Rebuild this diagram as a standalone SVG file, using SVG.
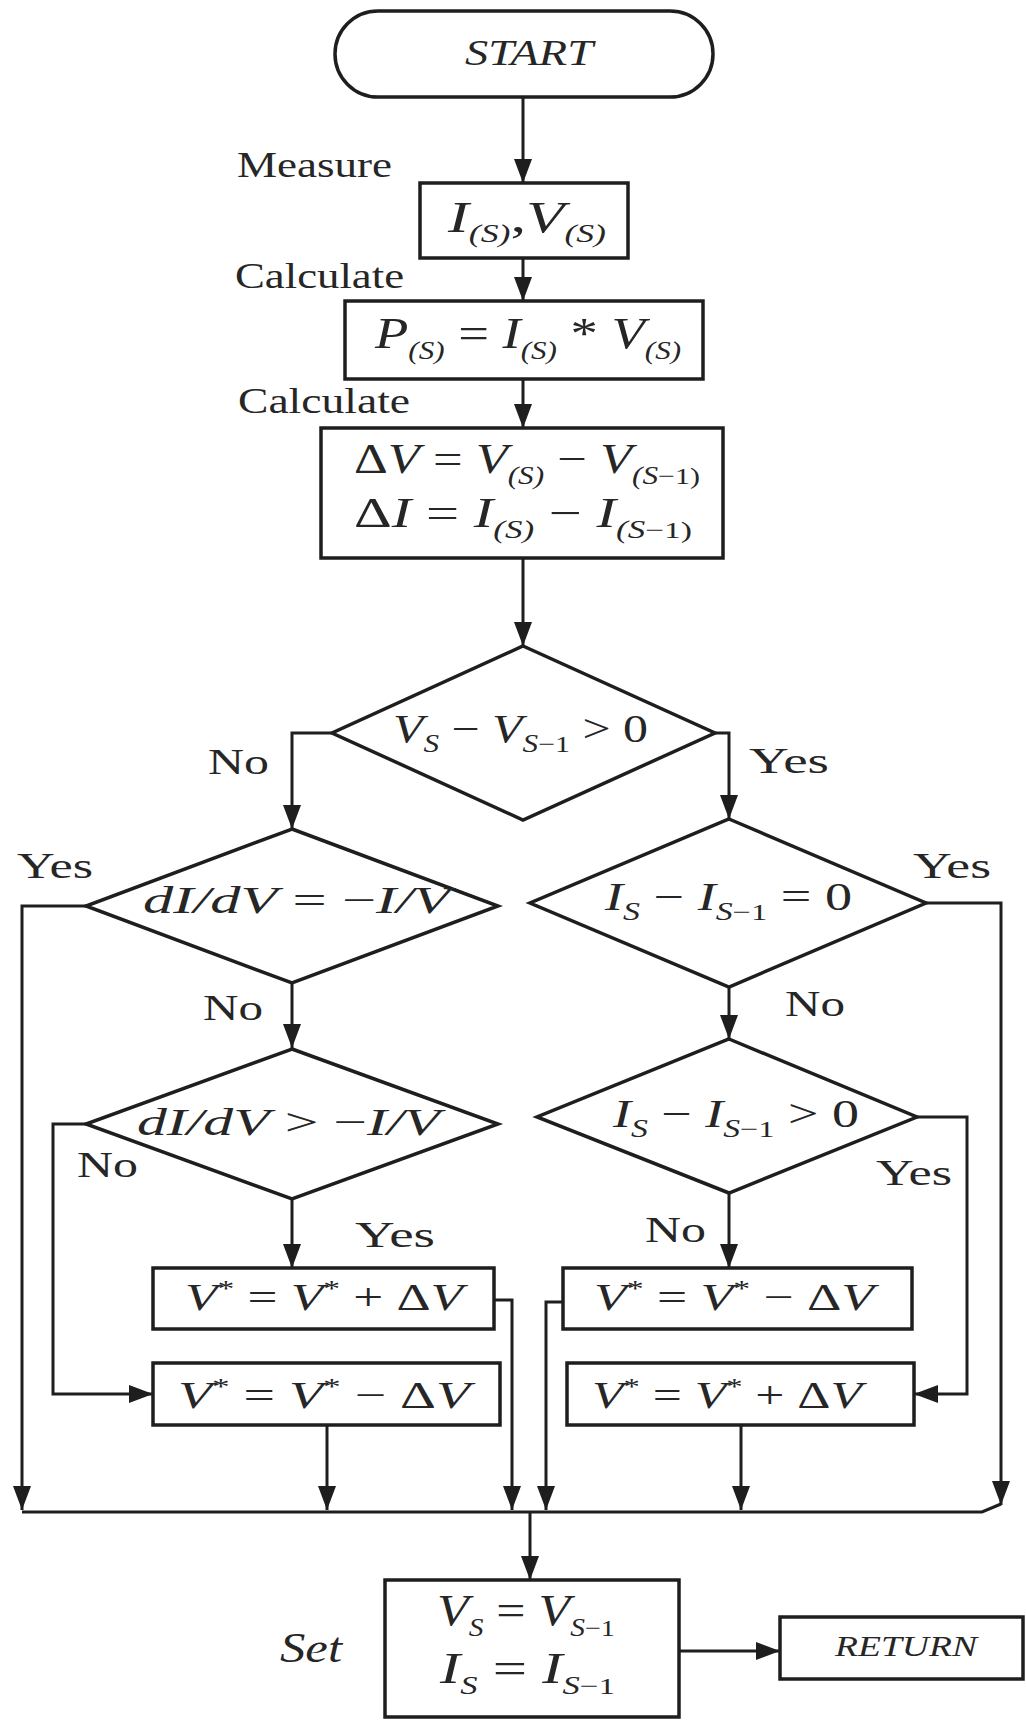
<svg xmlns="http://www.w3.org/2000/svg" width="1026" height="1720" viewBox="0 0 1026 1720">
<style>
.ln{fill:none;stroke:#1e1e1e;stroke-width:3}
.bx{fill:#fff;stroke:#1e1e1e;stroke-width:3.5}
.t{font-family:"Liberation Serif","Times New Roman",serif;fill:#262626}
.lb{font-size:35px}
.m{font-style:italic}
.n{font-style:normal}
.s{font-size:25px}
.p{font-size:24px;font-style:normal}
</style>
<defs>
<marker id="ah" viewBox="0 0 24 20" refX="24" refY="10" markerWidth="24" markerHeight="20" markerUnits="userSpaceOnUse" orient="auto">
<path d="M0,1 L24,10 L0,19 z" fill="#1e1e1e"/>
</marker>
</defs>
<rect width="1026" height="1720" fill="#fff"/>

<g id="connectors">
<path class="ln" d="M523,97 V183" marker-end="url(#ah)"/>
<path class="ln" d="M523,258 V301" marker-end="url(#ah)"/>
<path class="ln" d="M523,379 V428" marker-end="url(#ah)"/>
<path class="ln" d="M523,558 V646" marker-end="url(#ah)"/>
<path class="ln" d="M332,733 H292 V829" marker-end="url(#ah)"/>
<path class="ln" d="M715,733 H729 V819" marker-end="url(#ah)"/>
<path class="ln" d="M86,906 H22 V1510" marker-end="url(#ah)"/>
<path class="ln" d="M926,903 H1001 V1505" marker-end="url(#ah)"/>
<path class="ln" d="M292,983 V1048" marker-end="url(#ah)"/>
<path class="ln" d="M729,987 V1039" marker-end="url(#ah)"/>
<path class="ln" d="M86,1124 H53 V1394 H153" marker-end="url(#ah)"/>
<path class="ln" d="M292,1199 V1268" marker-end="url(#ah)"/>
<path class="ln" d="M917,1117 H967 V1394 H914" marker-end="url(#ah)"/>
<path class="ln" d="M729,1193 V1268" marker-end="url(#ah)"/>
<path class="ln" d="M494,1300 H512 V1510" marker-end="url(#ah)"/>
<path class="ln" d="M563,1302 H546 V1510" marker-end="url(#ah)"/>
<path class="ln" d="M327,1425 V1510" marker-end="url(#ah)"/>
<path class="ln" d="M741,1425 V1510" marker-end="url(#ah)"/>
<path class="ln" d="M22,1512 H982 L1001,1504"/>
<path class="ln" d="M530,1512 V1580" marker-end="url(#ah)"/>
<path class="ln" d="M679,1651 H780" marker-end="url(#ah)"/>
</g>

<g id="labels">
<text class="t lb" x="237" y="177" textLength="155" lengthAdjust="spacingAndGlyphs">Measure</text>
<text class="t lb" x="235" y="288" textLength="169" lengthAdjust="spacingAndGlyphs">Calculate</text>
<text class="t lb" x="238" y="413" textLength="172" lengthAdjust="spacingAndGlyphs">Calculate</text>
<text class="t lb" x="208" y="774" textLength="61" lengthAdjust="spacingAndGlyphs">No</text>
<text class="t lb" x="749" y="773" textLength="80" lengthAdjust="spacingAndGlyphs">Yes</text>
<text class="t lb" x="17" y="878" textLength="76" lengthAdjust="spacingAndGlyphs">Yes</text>
<text class="t lb" x="913" y="878" textLength="78" lengthAdjust="spacingAndGlyphs">Yes</text>
<text class="t lb" x="203" y="1020" textLength="60" lengthAdjust="spacingAndGlyphs">No</text>
<text class="t lb" x="785" y="1016" textLength="60" lengthAdjust="spacingAndGlyphs">No</text>
<text class="t lb" x="77" y="1177" textLength="61" lengthAdjust="spacingAndGlyphs">No</text>
<text class="t lb" x="355" y="1247" textLength="80" lengthAdjust="spacingAndGlyphs">Yes</text>
<text class="t lb" x="876" y="1185" textLength="76" lengthAdjust="spacingAndGlyphs">Yes</text>
<text class="t lb" x="645" y="1242" textLength="61" lengthAdjust="spacingAndGlyphs">No</text>
<text class="t m" x="280" y="1662" font-size="42" textLength="62" lengthAdjust="spacingAndGlyphs">Set</text>
</g>

<g id="start">
<rect class="bx" x="335" y="11" width="378" height="86" rx="43" ry="43"/>
<text class="t m" x="465" y="65" font-size="36" textLength="128" lengthAdjust="spacingAndGlyphs">START</text>
</g>

<g id="measure">
<rect class="bx" x="420" y="183" width="208" height="75"/>
<text class="t m" x="448" y="232" font-size="44" textLength="158" lengthAdjust="spacingAndGlyphs">I<tspan class="s" dy="10">(S)</tspan><tspan class="n" dy="-10">,</tspan>V<tspan class="s" dy="10">(S)</tspan></text>
</g>

<g id="power">
<rect class="bx" x="345" y="301" width="358" height="78"/>
<text class="t m" x="375" y="348" font-size="44" textLength="306" lengthAdjust="spacingAndGlyphs">P<tspan class="s" dy="11">(S)</tspan><tspan class="n" dy="-11"> = </tspan>I<tspan class="s" dy="11">(S)</tspan><tspan class="n" dy="-11"> * </tspan>V<tspan class="s" dy="11">(S)</tspan></text>
</g>

<g id="delta">
<rect class="bx" x="321" y="428" width="402" height="130"/>
<text class="t m" x="354" y="473" font-size="42" textLength="346" lengthAdjust="spacingAndGlyphs"><tspan class="n">Δ</tspan>V<tspan class="n"> = </tspan>V<tspan class="s" dy="11">(S)</tspan><tspan class="n" dy="-11"> − </tspan>V<tspan class="s" dy="11">(S</tspan><tspan class="p">−1)</tspan></text>
<text class="t m" x="354" y="527" font-size="42" textLength="338" lengthAdjust="spacingAndGlyphs"><tspan class="n">Δ</tspan>I<tspan class="n">  = </tspan>I<tspan class="s" dy="11">(S)</tspan><tspan class="n" dy="-11"> − </tspan>I<tspan class="s" dy="11">(S</tspan><tspan class="p">−1)</tspan></text>
</g>

<g id="dec-v">
<polygon class="bx" points="523,646 715,733 523,820 332,733"/>
<text class="t m" x="393" y="742" font-size="40" textLength="255" lengthAdjust="spacingAndGlyphs">V<tspan class="s" dy="10">S</tspan><tspan class="n" dy="-10"> − </tspan>V<tspan class="s" dy="10">S</tspan><tspan class="p">−1</tspan><tspan class="n" dy="-10"> &gt; 0</tspan></text>
</g>

<g id="dec-inc-cond">
<polygon class="bx" points="292,829 498,906 292,983 86,906"/>
<text class="t m" x="143" y="913" font-size="38" textLength="307" lengthAdjust="spacingAndGlyphs">dI/dV<tspan class="n"> = −</tspan>I/V</text>
</g>

<g id="dec-i-zero">
<polygon class="bx" points="729,819 926,903 729,987 530,903"/>
<text class="t m" x="605" y="910" font-size="40" textLength="247" lengthAdjust="spacingAndGlyphs">I<tspan class="s" dy="10">S</tspan><tspan class="n" dy="-10"> − </tspan>I<tspan class="s" dy="10">S</tspan><tspan class="p">−1</tspan><tspan class="n" dy="-10"> = 0</tspan></text>
</g>

<g id="dec-inc-gt">
<polygon class="bx" points="292,1049 498,1124 292,1199 86,1124"/>
<text class="t m" x="137" y="1135" font-size="38" textLength="303" lengthAdjust="spacingAndGlyphs">dI/dV<tspan class="n"> &gt; −</tspan>I/V</text>
</g>

<g id="dec-i-pos">
<polygon class="bx" points="729,1039 917,1117 729,1193 537,1117"/>
<text class="t m" x="613" y="1127" font-size="40" textLength="246" lengthAdjust="spacingAndGlyphs">I<tspan class="s" dy="10">S</tspan><tspan class="n" dy="-10"> − </tspan>I<tspan class="s" dy="10">S</tspan><tspan class="p">−1</tspan><tspan class="n" dy="-10"> &gt; 0</tspan></text>
</g>

<g id="inc-left">
<rect class="bx" x="153" y="1268" width="341" height="61"/>
<text class="t m" x="185" y="1310" font-size="38" textLength="278" lengthAdjust="spacingAndGlyphs">V<tspan class="p" dy="-14">*</tspan><tspan class="n" dy="14"> = </tspan>V<tspan class="p" dy="-14">*</tspan><tspan class="n" dy="14"> + Δ</tspan>V</text>
</g>

<g id="dec-right">
<rect class="bx" x="563" y="1268" width="349" height="61"/>
<text class="t m" x="594" y="1310" font-size="38" textLength="280" lengthAdjust="spacingAndGlyphs">V<tspan class="p" dy="-14">*</tspan><tspan class="n" dy="14"> = </tspan>V<tspan class="p" dy="-14">*</tspan><tspan class="n" dy="14"> − Δ</tspan>V</text>
</g>

<g id="dec-left">
<rect class="bx" x="153" y="1363" width="347" height="62"/>
<text class="t m" x="178" y="1408" font-size="38" textLength="292" lengthAdjust="spacingAndGlyphs">V<tspan class="p" dy="-14">*</tspan><tspan class="n" dy="14"> = </tspan>V<tspan class="p" dy="-14">*</tspan><tspan class="n" dy="14"> − Δ</tspan>V</text>
</g>

<g id="inc-right">
<rect class="bx" x="567" y="1363" width="347" height="62"/>
<text class="t m" x="592" y="1408" font-size="38" textLength="270" lengthAdjust="spacingAndGlyphs">V<tspan class="p" dy="-14">*</tspan><tspan class="n" dy="14"> = </tspan>V<tspan class="p" dy="-14">*</tspan><tspan class="n" dy="14"> + Δ</tspan>V</text>
</g>

<g id="set">
<rect class="bx" x="385" y="1580" width="294" height="137"/>
<text class="t m" x="437" y="1625" font-size="44" textLength="178" lengthAdjust="spacingAndGlyphs">V<tspan class="s" dy="11">S</tspan><tspan class="n" dy="-11"> = </tspan>V<tspan class="s" dy="11">S</tspan><tspan class="p">−1</tspan></text>
<text class="t m" x="440" y="1683" font-size="44" textLength="175" lengthAdjust="spacingAndGlyphs">I<tspan class="s" dy="11">S</tspan><tspan class="n" dy="-11"> = </tspan>I<tspan class="s" dy="11">S</tspan><tspan class="p">−1</tspan></text>
</g>

<g id="return">
<rect class="bx" x="780" y="1617" width="243" height="62"/>
<text class="t m" x="835" y="1656" font-size="30" textLength="142" lengthAdjust="spacingAndGlyphs">RETURN</text>
</g>
</svg>
